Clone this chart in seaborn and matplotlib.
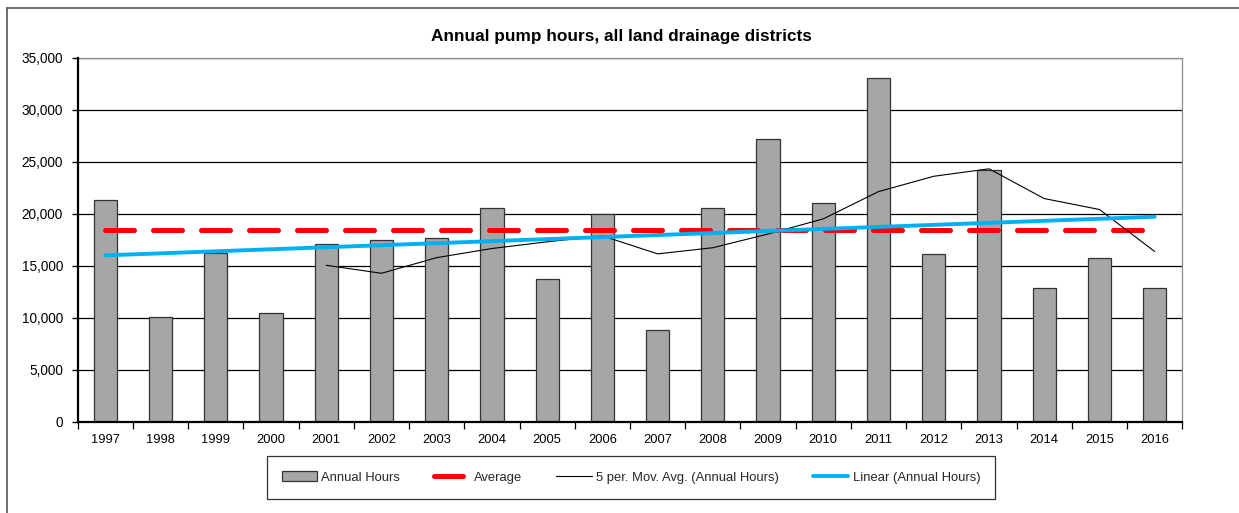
import numpy as np
import pandas as pd
import matplotlib
matplotlib.use('Agg')
import matplotlib.pyplot as plt
from matplotlib.lines import Line2D
from matplotlib.ticker import FuncFormatter, MultipleLocator, FixedLocator
import seaborn as sns

# data
years = list(range(1997, 2017))
annual_hours = [21300, 10100, 16200, 10500, 17100, 17450, 17630, 20580, 13720, 19970,
                8790, 20580, 27180, 21000, 33080, 16150, 24170, 12880, 15740, 12880]
average_value = 18400  # long-term average, drawn as a flat line

df = pd.DataFrame({'Year': years, 'Annual Hours': annual_hours})
df['Average'] = average_value
df['MovAvg'] = df['Annual Hours'].rolling(5).mean()  # Excel 5 period moving average
slope, intercept = np.polyfit(df['Year'], df['Annual Hours'], 1)  # Excel linear trendline
df['Linear'] = slope * df['Year'] + intercept

sns.set_theme(style='white')
plt.rcParams['font.family'] = ['Liberation Sans', 'DejaVu Sans']

fig = plt.figure(figsize=(12.39, 5.13), dpi=100)
W, H = 1239, 513
ax = fig.add_axes([77.7 / W, 1 - 421.7 / H, (1182.3 - 77.7) / W, (421.7 - 57.7) / H])

ax.set_axisbelow(True)
ax.yaxis.grid(True, color='black', lw=0.9)
ax.xaxis.grid(False)

sns.barplot(data=df, x='Year', y='Annual Hours', native_scale=True, width=0.42,
            color='#A6A6A6', saturation=1, edgecolor='#333333', linewidth=0.9,
            label='Annual Hours', ax=ax, zorder=2)
sns.lineplot(data=df, x='Year', y='Average', color='#FF0000', lw=3.6,
             linestyle=(0, (5.8, 3.8)), dash_capstyle='round',
             label='Average', ax=ax, zorder=3)
sns.lineplot(data=df.dropna(), x='Year', y='MovAvg', color='black', lw=0.8,
             label='5 per. Mov. Avg. (Annual Hours)', ax=ax, zorder=4)
sns.lineplot(data=df, x='Year', y='Linear', color='#00B0F0', lw=2.8,
             solid_capstyle='round', label='Linear (Annual Hours)', ax=ax, zorder=5)
if ax.get_legend():
    ax.get_legend().remove()

ax.set_xlim(1996.5, 2016.5)
ax.set_ylim(0, 35000)
ax.yaxis.set_major_locator(MultipleLocator(5000))
ax.yaxis.set_major_formatter(FuncFormatter(lambda v, p: f'{v:,.0f}'))
ax.set_xticks(years, [str(y) for y in years])
ax.xaxis.set_minor_locator(FixedLocator([y + 0.5 for y in [1996] + years]))
ax.tick_params(axis='x', which='major', length=0, labelsize=9.3, pad=9, colors='black')
ax.tick_params(axis='x', which='minor', length=5, width=0.9, direction='out', bottom=True, color='black')
ax.tick_params(axis='y', which='major', length=4, width=1, direction='out', left=True,
               labelsize=9.8, pad=6.5, colors='black')
ax.set_xlabel('')
ax.set_ylabel('')

for side in ['left', 'bottom']:
    ax.spines[side].set_color('black')
    ax.spines[side].set_linewidth(1.6)
for side in ['top', 'right']:
    ax.spines[side].set_color('#8C8C8C')
    ax.spines[side].set_linewidth(0.9)
ax.spines['left'].set_zorder(6)
ax.spines['bottom'].set_zorder(6)

fig.text(621 / W, 1 - 36 / H, 'Annual pump hours, all land drainage districts',
         ha='center', va='center', fontsize=12.4, fontweight='bold', color='black')

# legend in the Excel order: bars first, then the lines
handles, labels = ax.get_legend_handles_labels()
order = [labels.index(name) for name in ['Annual Hours', 'Average',
                                         '5 per. Mov. Avg. (Annual Hours)',
                                         'Linear (Annual Hours)']]
leg = fig.legend([handles[i] for i in order], [labels[i] for i in order],
                 loc='center', bbox_to_anchor=(631 / W, 1 - 477.5 / H),
                 ncol=4, fontsize=9.4, frameon=True, fancybox=False, shadow=False,
                 handlelength=2.7, handleheight=0.7, handletextpad=0.35,
                 columnspacing=2.6, borderpad=1.15)
leg.get_frame().set_edgecolor('black')
leg.get_frame().set_linewidth(0.9)

# outer chart border (left and top edges visible)
fig.add_artist(Line2D([7 / W, 7 / W], [0, 1 - 7.7 / H], transform=fig.transFigure,
                      color='#555555', lw=1.2))
fig.add_artist(Line2D([7 / W, 1], [1 - 7.7 / H, 1 - 7.7 / H], transform=fig.transFigure,
                      color='#555555', lw=1.2))

fig.savefig('out.png', dpi=100, facecolor='white')
